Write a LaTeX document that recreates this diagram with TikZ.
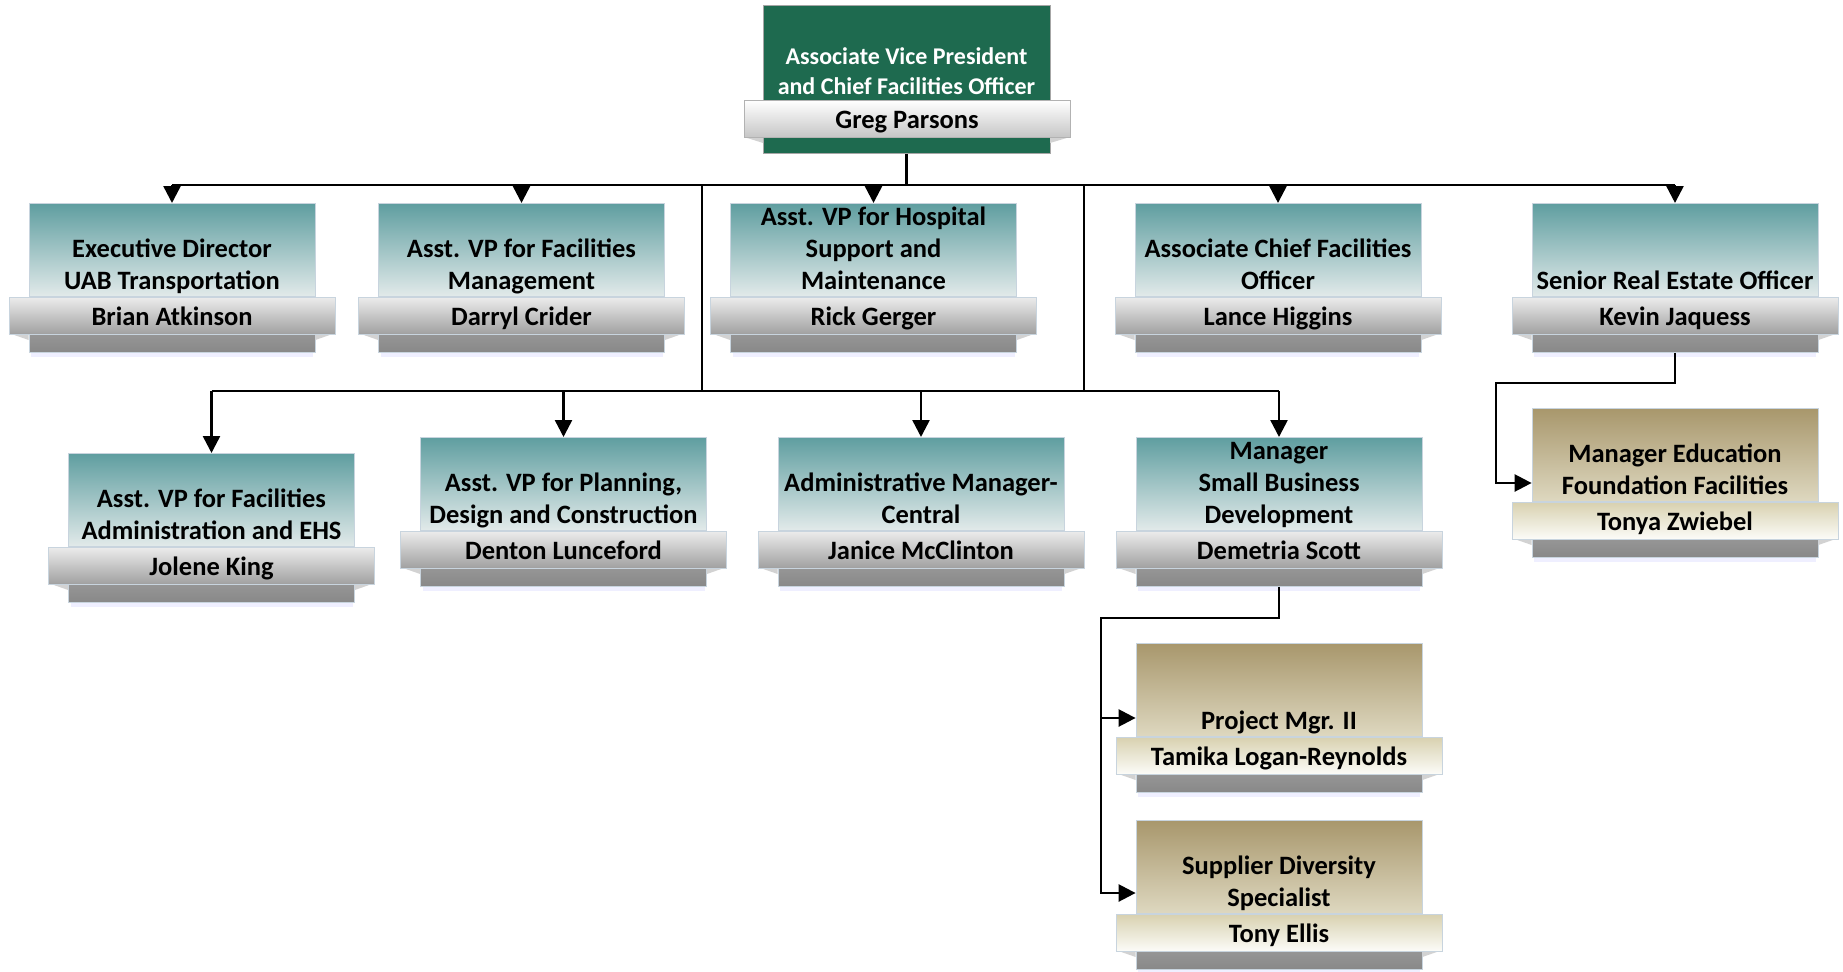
\documentclass[tikz,border=0pt]{standalone}
\usepackage{fontspec}
\setmainfont{Carlito}
\usetikzlibrary{arrows.meta,calc}

\definecolor{tealT}{RGB}{95,158,160}
\definecolor{tealB}{RGB}{226,234,234}
\definecolor{goldT}{RGB}{168,151,108}
\definecolor{goldB}{RGB}{222,216,192}
\definecolor{gbandT}{RGB}{216,209,176}
\definecolor{gbandB}{RGB}{252,252,248}
\definecolor{bandT}{RGB}{236,236,236}
\definecolor{bandB}{RGB}{160,160,160}
\definecolor{bodyT}{RGB}{178,178,178}
\definecolor{bodyB}{RGB}{136,136,136}
\definecolor{edge}{RGB}{200,212,222}
\definecolor{wingc}{RGB}{210,210,210}
\definecolor{uabgreen}{RGB}{30,106,79}

\tikzset{
  boxedge/.style={draw=edge, line width=0.8pt},
  tealtop/.style={boxedge, top color=tealT, bottom color=tealB, inner sep=0pt},
  goldtop/.style={boxedge, top color=goldT, bottom color=goldB, inner sep=0pt},
  tealband/.style={boxedge, top color=bandT, bottom color=bandB, inner sep=0pt,
     font=\fontsize{26.5}{32}\selectfont\bfseries, text height=22.8pt, text depth=4pt},
  goldband/.style={boxedge, top color=gbandT, bottom color=gbandB, inner sep=0pt,
     font=\fontsize{26.5}{32}\selectfont\bfseries, text height=22.8pt, text depth=4pt},
  bodybox/.style={boxedge, top color=bodyT, bottom color=bodyB, inner sep=0pt,
     minimum width=286pt, minimum height=56pt},
  titletext/.style={font=\fontsize{26.5}{32}\selectfont\bfseries, align=center,
     inner sep=0pt, text depth=6pt},
  conn/.style={line width=2.5pt, line join=miter, black},
  arr/.style={conn, -{Triangle[length=17pt,width=17pt]}},
}

% #1 name, #2 cx, #3 ytop, #4 kind (teal|gold), #5 title, #6 person
\newcommand\obox[6]{%
  \fill[blue!8, opacity=0.8] ({#2-141},{#3+150}) rectangle ({#2+141},{#3+154});
  \node[bodybox, anchor=north] (#1b) at ({#2},{#3+93}) {};
  \node[#4top, anchor=north, minimum width=286pt, minimum height=93pt] (#1) at ({#2},{#3}) {};
  \fill[wingc] ($(#1b.north west)+(-20,37)$) -- ++(20,0) -- ++(0,7) -- cycle;
  \fill[wingc] ($(#1b.north east)+(20,37)$) -- ++(-20,0) -- ++(0,7) -- cycle;
  \node[#4band, anchor=north, minimum width=326pt, minimum height=37pt] (#1n) at (#1.south) {#6};
  \node[titletext, anchor=south] (#1t) at ($(#1.south)+(0,-1)$) {#5};
}

\begin{document}
\begin{tikzpicture}[x=1pt,y=-1pt]
\useasboundingbox (0,0) rectangle (1843,971);

% top box
\node[draw=gray!70, line width=0.8pt, fill=uabgreen, minimum width=287pt, minimum height=148pt, anchor=north, inner sep=0pt] (top) at (906.5,5) {};
\fill[wingc] (744,137) -- (763,137) -- (763,143) -- cycle;
\fill[wingc] (1070,137) -- (1050,137) -- (1050,143) -- cycle;
\node[draw=gray!60, line width=0.8pt, top color=white, middle color=white, bottom color=gray!45, minimum width=326pt, minimum height=37pt, inner sep=0pt, anchor=north,
  font=\fontsize{26.5}{32}\selectfont\bfseries, text height=22.8pt, text depth=4pt] (topn) at (907,100) {Greg Parsons};
\node[font=\fontsize{24}{30}\selectfont\bfseries, text=white, align=center, inner sep=0pt] (topt) at (906.5,71) {Associate Vice President\\and Chief Facilities Officer};

% level 1
\obox{b1}{172}{203}{teal}{Executive Director\\UAB Transportation}{Brian Atkinson}
\obox{b2}{521.5}{203}{teal}{Asst. VP for Facilities\\Management}{Darryl Crider}
\obox{b3}{873.5}{203}{teal}{Asst. VP for Hospital\\Support and\\Maintenance}{Rick Gerger}
\obox{b4}{1278}{203}{teal}{Associate Chief Facilities\\Officer}{Lance Higgins}
\obox{b5}{1675}{203}{teal}{Senior Real Estate Officer}{Kevin Jaquess}

% level 2
\obox{b6}{211.5}{453}{teal}{Asst. VP for Facilities\\Administration and EHS}{Jolene King}
\obox{b7}{563.5}{437}{teal}{Asst. VP for Planning,\\Design and Construction}{Denton Lunceford}
\obox{b8}{921}{437}{teal}{Administrative Manager-\\Central}{Janice McClinton}
\obox{b9}{1279}{437}{teal}{Manager\\Small Business\\Development}{Demetria Scott}

% gold boxes
\obox{b10}{1675}{408}{gold}{Manager Education\\Foundation Facilities}{Tonya Zwiebel}
\obox{b11}{1279}{643}{gold}{Project Mgr. II}{Tamika Logan-Reynolds}
\obox{b12}{1279}{820}{gold}{Supplier Diversity\\Specialist}{Tony Ellis}

% connectors
\coordinate (j0) at (906.5,185);
\coordinate (v1) at (702,185);
\coordinate (v2) at (1084,185);
\coordinate (j2) at (702,391);
\coordinate (j3) at (1084,391);
\coordinate (k1) at (1496,383);
\coordinate (d1) at (1101,618);

\draw[conn] (top.south) -- (j0);
\draw[conn] (b1 |- j0) -- (b5 |- j0);
\foreach \b in {b1,b2,b3,b4,b5} \draw[arr] (\b |- j0) -- (\b.north);
\draw[conn] (v1) -- (j2);
\draw[conn] (v2) -- (j3);
\draw[conn] (b6 |- j2) -- (b9 |- j2);
\foreach \b in {b6,b7,b8,b9} \draw[arr] (\b |- j2) -- (\b.north);

\draw[arr] (b5b.south) |- (k1) |- ($(b10.north west)+(0,75)$);
\draw[arr] (b9b.south) |- (d1) |- ($(b11.north west)+(0,75)$);
\draw[arr] (d1) |- ($(b12.north west)+(0,73)$);
\end{tikzpicture}
\end{document}
